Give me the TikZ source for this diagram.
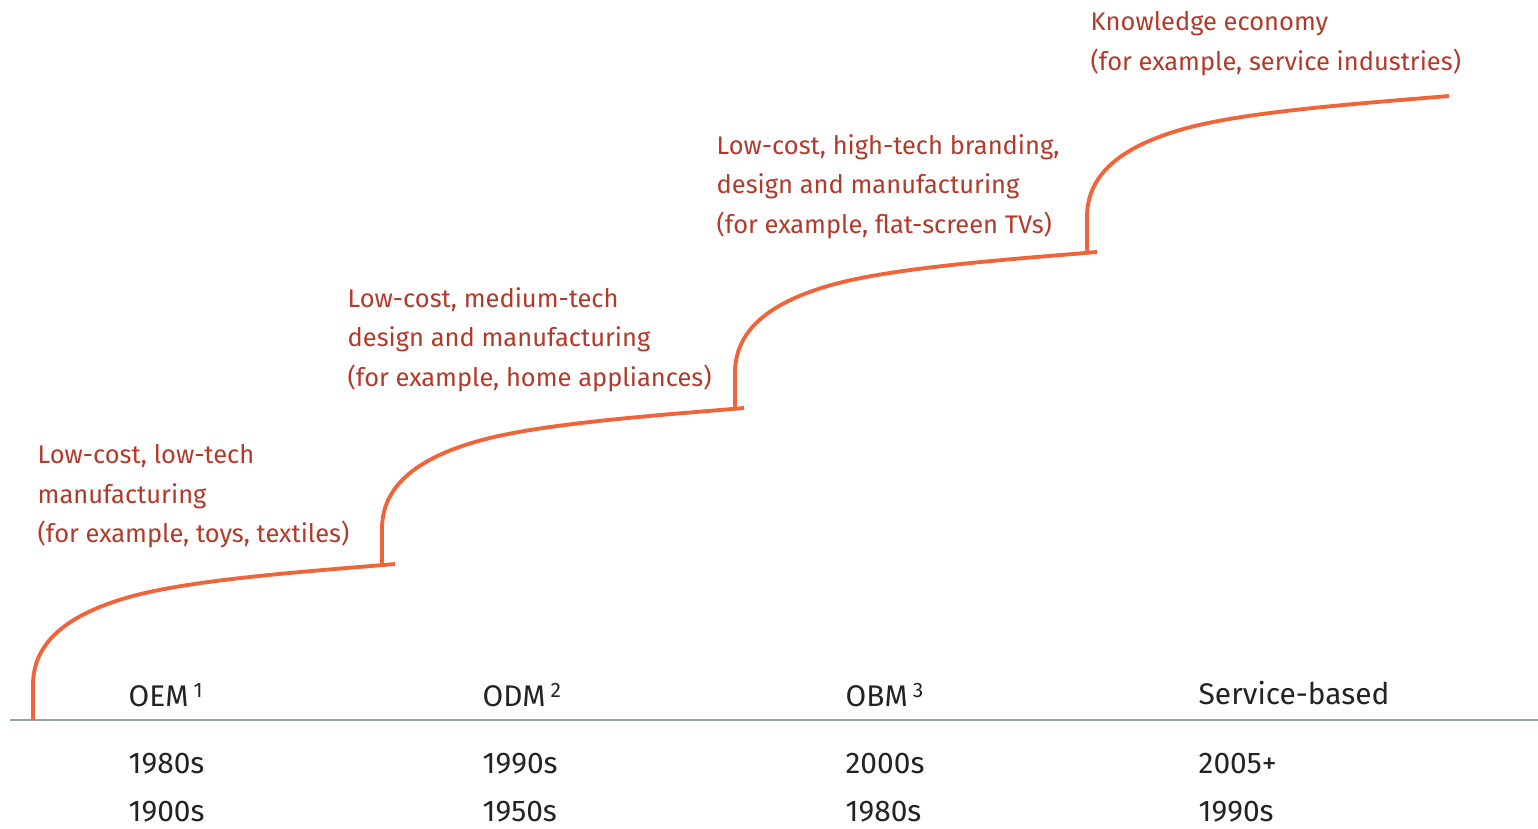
\documentclass[tikz,border=0pt]{standalone}
\usepackage{fontspec}
\setmainfont{Fira Sans}
\usepackage{xcolor}
\usepackage{tikz}

\definecolor{stagered}{RGB}{178,58,42}
\definecolor{stairorange}{RGB}{240,100,58}
\definecolor{axisgray}{RGB}{150,165,165}
\definecolor{labeldark}{RGB}{35,35,35}

\tikzset{
  stage/.style={anchor=north west, align=left, inner sep=0pt, text=stagered,
    font=\fontsize{7.25}{11.2}\selectfont},
  model/.style={anchor=base west, inner sep=0pt, text=labeldark,
    font=\fontsize{8.5}{10}\selectfont},
  stair/.style={stairorange, line width=1.1pt},
}

\begin{document}
\begin{tikzpicture}
    \useasboundingbox (0,0) rectangle (15.38,8.28);

    % Baseline
    \coordinate (axisL) at (0.10,1.08);
    \coordinate (axisR) at (15.38,1.08);
    \draw[axisgray, line width=0.8pt] (axisL) -- (axisR);

    % Stairs
    \foreach \sx/\sy in {0.33/1.08, 3.82/2.64, 7.35/4.20, 10.87/5.76} {
        \begin{scope}[shift={(\sx,\sy)}]
            \draw[stair] (0,0) -- (0,0.35)
                .. controls (0,0.75) and (0.3,1.05) .. (1.0,1.24)
                .. controls (1.63,1.41) and (2.8,1.49) .. (3.62,1.56);
        \end{scope}
    }

    % Stage labels
    \node[stage] (lowtech) at (0.37,3.84) {Low-cost, low-tech\\manufacturing\\(for example, toys, textiles)};
    \node[stage] (medtech) at (3.47,5.41) {Low-cost, medium-tech\\design and manufacturing\\(for example, home appliances)};
    \node[stage] (hightech) at (7.16,6.94) {Low-cost, high-tech branding,\\design and manufacturing\\(for example, flat-screen TVs)};
    \node[stage] (knowledge) at (10.90,8.17) {Knowledge economy\\(for example, service industries)};

    % Business models
    \node[model] (oem) at (1.28,1.21) {OEM\,\textsuperscript{1}};
    \node[model] (odm) at (4.82,1.21) {ODM\,\textsuperscript{2}};
    \node[model] (obm) at (8.45,1.21) {OBM\,\textsuperscript{3}};
    \node[model] (service) at (11.98,1.24) {Service-based};

    % Decades
    \node[model] (oemA) at (1.28,0.55) {1980s};
    \node[model] (oemB) at (1.28,0.07) {1900s};
    \node[model] (odmA) at (4.82,0.55) {1990s};
    \node[model] (odmB) at (4.82,0.07) {1950s};
    \node[model] (obmA) at (8.45,0.55) {2000s};
    \node[model] (obmB) at (8.45,0.07) {1980s};
    \node[model] (serviceA) at (11.98,0.55) {2005+};
    \node[model] (serviceB) at (11.98,0.07) {1990s};
\end{tikzpicture}
\end{document}
